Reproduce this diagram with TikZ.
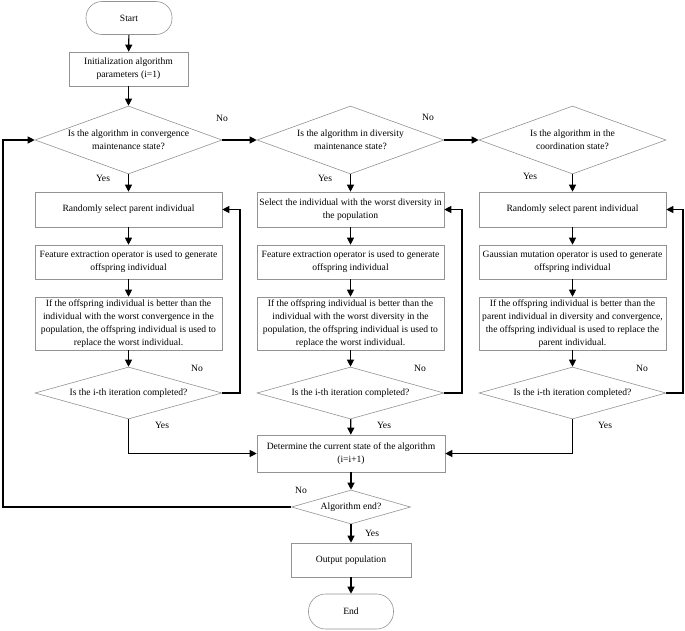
\documentclass[tikz,border=0pt]{standalone}
\usepackage{fontspec}
\setmainfont{Liberation Serif}
\usetikzlibrary{arrows.meta,shapes.geometric}
\begin{document}
\begin{tikzpicture}[x=1pt,y=-1pt,
  every node/.style={font=\fontsize{9.6}{13}\selectfont},
  box/.style={draw=gray!85, line width=0.6pt, rectangle, minimum width=187pt, minimum height=35pt, align=center, inner sep=1pt},
  term/.style={draw=gray!85, line width=0.6pt, rectangle, rounded corners=16pt, minimum width=86pt, minimum height=33pt, align=center},
  dia/.style={draw=gray!85, line width=0.6pt, diamond, minimum width=187pt, minimum height=68pt, inner sep=0pt},
  lbl/.style={inner sep=0pt},
  conn/.style={line width=1.1pt, -{Triangle[length=7pt,width=7pt]}},
  line/.style={line width=1.1pt}]
\useasboundingbox (0,0) rectangle (685,630);
% top
\node[term] (start) at (129,18) {Start};
\node[box, minimum width=119pt, minimum height=34pt] (init) at (128.5,69) {Initialization algorithm\\parameters (i=1)};
% decision row
\node[dia, label={[align=center,lbl]center:Is the algorithm in convergence\\maintenance state?}] (d1) at (128.5,140) {};
\node[dia, label={[align=center,lbl]center:Is the algorithm in diversity\\maintenance state?}] (d2) at (350.5,140) {};
\node[dia, label={[align=center,lbl]center:Is the algorithm in the\\coordination state?}] (d3) at (572.5,140) {};
% column 1
\node[box] (a1) at (128.5,209.5) {Randomly select parent individual};
\node[box, minimum height=34pt] (a2) at (128.5,262) {Feature extraction operator is used to generate\\offspring individual};
\node[box, minimum height=53pt] (a3) at (128.5,323.5) {If the offspring individual is better than the\\individual with the worst convergence in the\\population, the offspring individual is used to\\replace the worst individual.};
\node[dia, minimum height=52pt, label={[lbl]center:Is the i-th iteration completed?}] (a4) at (128.5,393) {};
% column 2
\node[box] (b1) at (350.5,209.5) {Select the individual with the worst diversity in\\the population};
\node[box, minimum height=34pt] (b2) at (350.5,262) {Feature extraction operator is used to generate\\offspring individual};
\node[box, minimum height=53pt] (b3) at (350.5,323.5) {If the offspring individual is better than the\\individual with the worst diversity in the\\population, the offspring individual is used to\\replace the worst individual.};
\node[dia, minimum height=52pt, label={[lbl]center:Is the i-th iteration completed?}] (b4) at (350.5,393) {};
% column 3
\node[box] (c1) at (572.5,209.5) {Randomly select parent individual};
\node[box, minimum height=34pt] (c2) at (572.5,262) {Gaussian mutation operator is used to generate\\offspring individual};
\node[box, minimum height=53pt] (c3) at (572.5,323.5) {If the offspring individual is better than the\\parent individual in diversity and convergence,\\the offspring individual is used to replace the\\parent individual.};
\node[dia, minimum height=52pt, label={[lbl]center:Is the i-th iteration completed?}] (c4) at (572.5,393) {};
% bottom
\node[box, minimum width=188pt, minimum height=37pt] (det) at (351,453.5) {Determine the current state of the algorithm\\(i=i+1)};
\node[dia, minimum width=119pt, minimum height=34pt, label={[lbl]center:Algorithm end?}] (ed) at (351,507) {};
\node[box, minimum width=120pt, minimum height=34pt] (out) at (351,560) {Output population};
\node[term, minimum width=85pt, minimum height=35pt, rounded corners=17pt] (end) at (351,611.5) {End};
% coordinates for loops
\coordinate (lp) at (3,0);
\coordinate (f1) at (240,0);
\coordinate (f2) at (462,0);
\coordinate (f3) at (683,0);
% connectors
\draw[conn] (start) -- (init);
\draw[conn] (init) -- (d1);
\draw[conn] (d1) -- (d2);
\draw[conn] (d2) -- (d3);
\draw[conn] (d1) -- (a1);
\draw[conn] (d2) -- (b1);
\draw[conn] (d3) -- (c1);
\draw[conn] (a1) -- (a2);
\draw[conn] (a2) -- (a3);
\draw[conn] (a3) -- (a4);
\draw[conn] (b1) -- (b2);
\draw[conn] (b2) -- (b3);
\draw[conn] (b3) -- (b4);
\draw[conn] (c1) -- (c2);
\draw[conn] (c2) -- (c3);
\draw[conn] (c3) -- (c4);
\draw[conn] (a4.east) -- (a4.east -| f1) -- (a1.east -| f1) -- (a1.east);
\draw[conn] (b4.east) -- (b4.east -| f2) -- (b1.east -| f2) -- (b1.east);
\draw[conn] (c4.east) -- (c4.east -| f3) -- (c1.east -| f3) -- (c1.east);
\draw[conn] (a4.south) |- (det.west);
\draw[conn] (b4) -- (det);
\draw[conn] (c4.south) |- (det.east);
\draw[conn] (det) -- (ed);
\draw[conn] (ed.west) -- (ed.west -| lp) -- (d1.west -| lp) -- (d1.west);
\draw[conn] (ed) -- (out);
\draw[conn] (out) -- (end);
% labels
\node[lbl] (n1) at (222,118) {No};
\node[lbl] (n2) at (428,117) {No};
\node[lbl] (y1) at (103,178) {Yes};
\node[lbl] (y2) at (325,178) {Yes};
\node[lbl] (y3) at (530,176) {Yes};
\node[lbl] (n3) at (197,368) {No};
\node[lbl] (n4) at (420,368) {No};
\node[lbl] (n5) at (642,368) {No};
\node[lbl] (y4) at (162,425) {Yes};
\node[lbl] (y5) at (384,425) {Yes};
\node[lbl] (y6) at (605,425) {Yes};
\node[lbl] (n6) at (301,490) {No};
\node[lbl] (y7) at (372,533) {Yes};
\end{tikzpicture}
\end{document}
